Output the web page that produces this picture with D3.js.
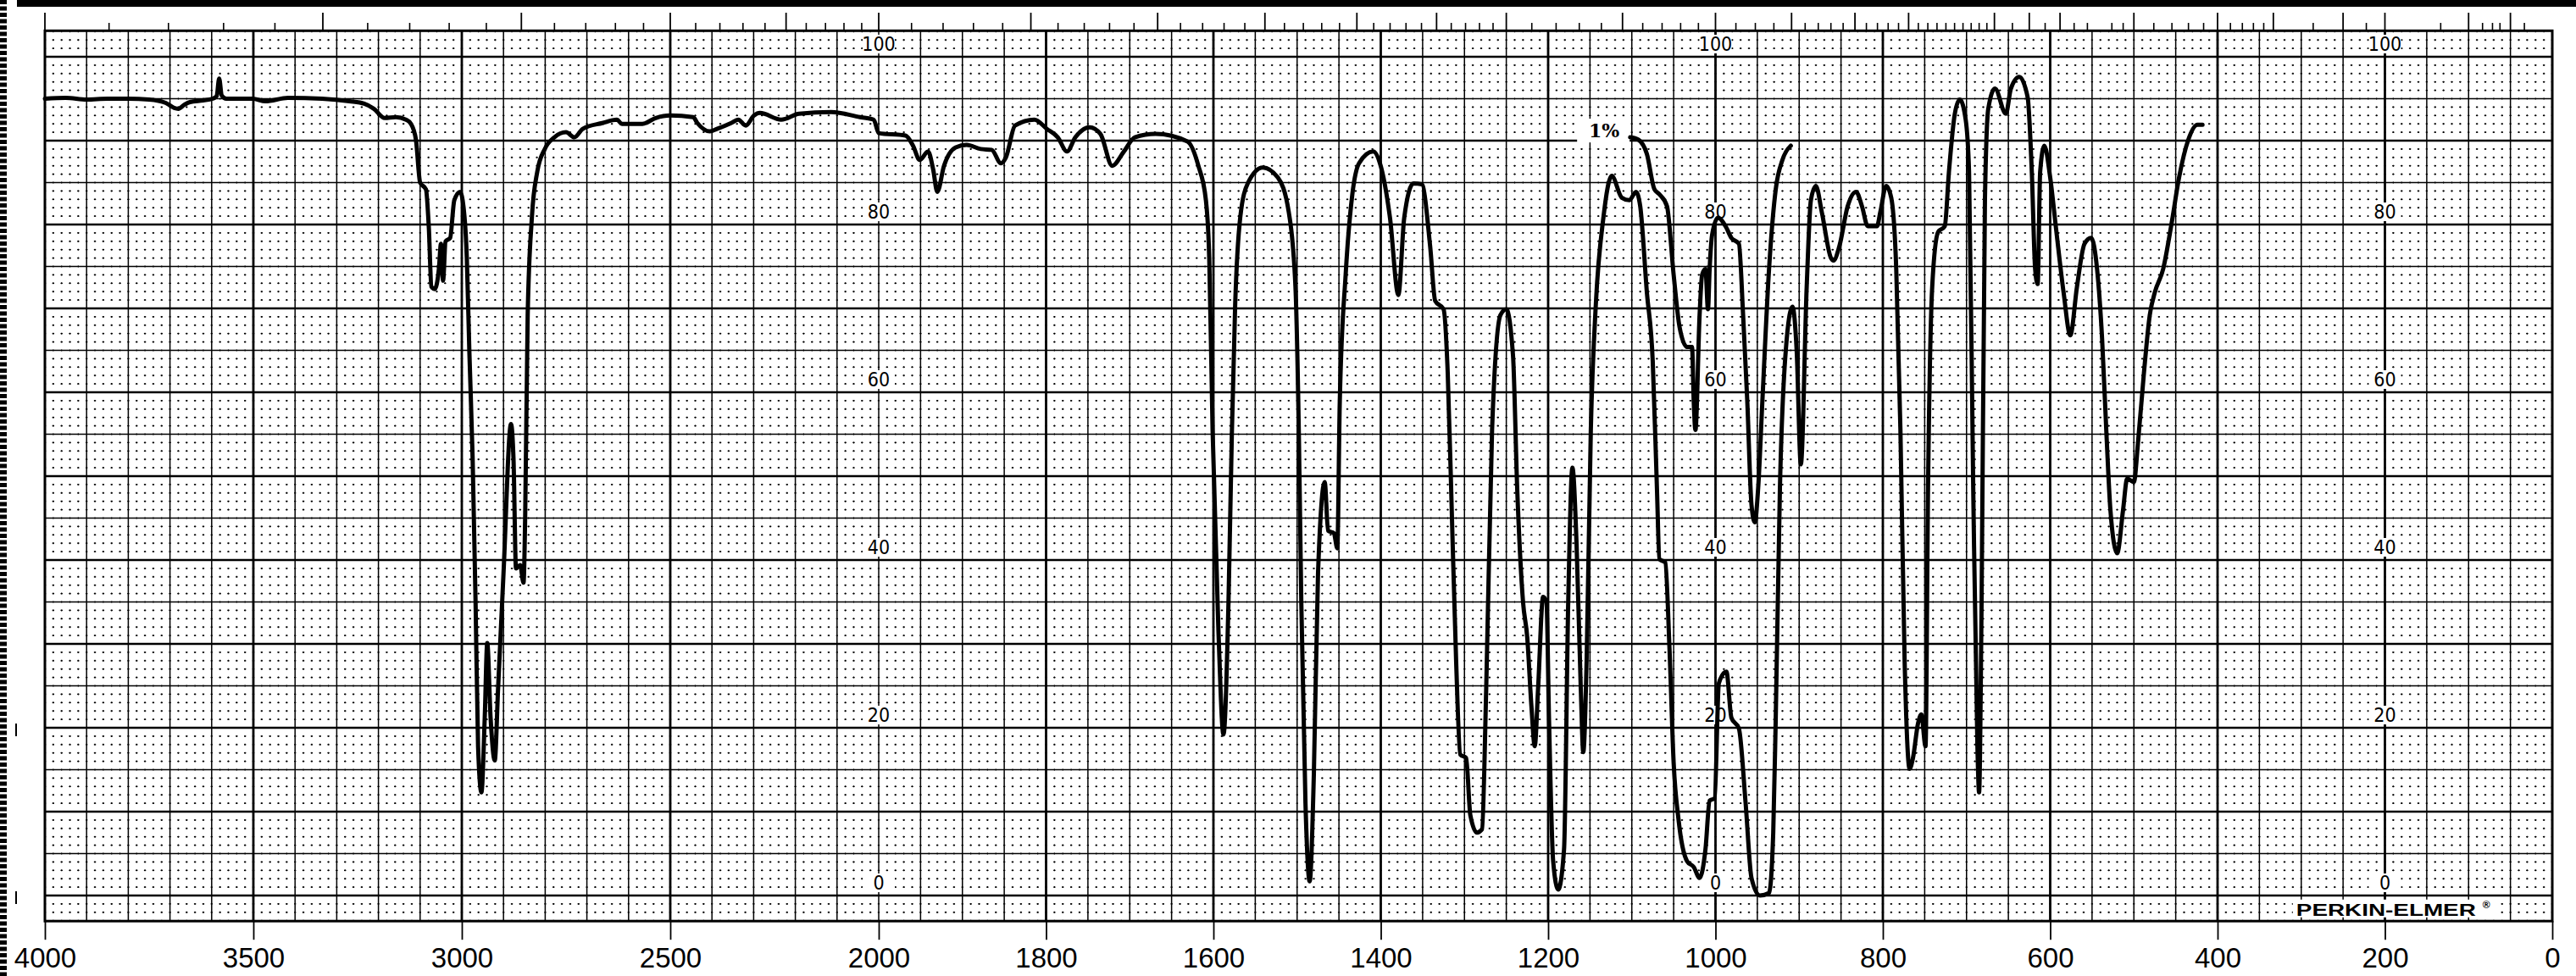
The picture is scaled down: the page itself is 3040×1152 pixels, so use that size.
<!DOCTYPE html>
<html><head><meta charset="utf-8">
<script src="https://cdn.jsdelivr.net/npm/d3@7"></script>
<style>html,body{margin:0;padding:0;background:#fff;} svg{display:block;}</style>
</head><body>
<svg id="c" width="3040" height="1152"></svg>
<script>
// ---------- DATA ----------
const mainWavenumber = [4000,3950,3900,3850,3800,3750,3710,3690,3680,3665,3652,3620,3598,3588,3582,3576,3565,3502,3471,3417,3335,3270,3234,3211,3185,3158,3134,3122,3110,3100,3086,3079,3073,3065,3055,3050,3045,3039,3028,3018,3004,2998,2988,2982,2974,2967,2961,2953,2945,2939,2931,2921,2913,2900,2882,2876,2870,2860,2852,2848,2842,2832,2819,2801,2778,2750,2730,2710,2663,2628,2616,2567,2535,2500,2445,2435,2405,2388,2354,2337,2319,2299,2285,2234,2191,2114,2045,2012,2000,1968,1959,1951,1941,1935,1930,1922,1908,1895,1878,1865,1854,1848,1837,1814,1799,1786,1775,1765,1748,1735,1721,1707,1694,1669,1631,1618,1609,1605,1601,1594,1588,1582,1578,1574,1568,1559,1541,1523,1510,1502,1498,1495,1490,1485,1480,1475,1467,1463,1456,1452,1449,1442,1434,1426,1409,1401,1389,1379,1372,1361,1351,1341,1335,1325,1320,1315,1310,1305,1298,1293,1285,1279,1274,1267,1257,1250,1242,1237,1230,1225,1220,1216,1212,1206,1202,1199,1194,1188,1181,1176,1171,1166,1161,1158,1154,1149,1143,1134,1124,1112,1103,1095,1090,1082,1075,1070,1067,1060,1055,1050,1044,1034,1026,1019,1012,1007,1001,996,987,981,972,964,957,947,936,931,928,923,916,908,903,898,891,886,880,873,862,859,852,842,832,825,818,807,803,796,790,784,779,774,768,764,758,754,749,746,741,734,726,721,714,708,701,697,692,687,685,682,678,674,666,653,647,637,627,622,618,615,612,607,600,593,584,576,568,559,551,544,538,533,528,520,513,508,500,495,488,481,475,465,455,446,435,424,418];
const mainTransmittance = [95.0,95.1,94.9,95.0,95.0,94.9,94.5,93.9,93.8,94.3,94.6,94.8,95.0,95.3,97.4,95.4,95.0,95.0,94.7,95.1,95.0,94.7,94.4,93.8,92.7,92.8,92.5,92.0,90.1,85.0,84.2,79.5,72.6,72.3,74.7,77.7,73.3,78.0,78.4,82.9,83.9,82.9,76.0,65.0,52.0,35.0,17.8,12.3,21.2,30.1,21.2,16.1,24.7,38.4,56.2,52.0,39.0,39.4,37.3,45.2,69.2,80.8,86.3,89.0,90.4,91.0,90.4,91.4,92.1,92.5,92.0,92.0,92.7,93.0,92.8,92.1,91.1,91.4,92.1,92.5,91.8,93.0,93.3,92.5,93.2,93.4,92.8,92.5,90.9,90.6,89.4,87.7,88.7,86.6,83.9,87.0,89.2,89.5,89.0,88.9,87.3,88.0,91.8,92.5,91.4,90.4,88.7,90.4,91.6,90.8,87.0,88.7,90.4,90.8,89.9,87.0,82.9,76.0,55.5,31.5,19.2,35.0,55.0,70.5,80.8,84.9,86.8,85.6,81.5,72.6,55.5,35.0,11.0,1.7,14.4,38.4,49.3,43.5,43.2,41.4,58.9,74.0,83.6,87.3,88.7,87.3,80.8,71.6,80.8,84.9,84.8,77.4,70.9,69.9,62.3,45.2,28.1,16.8,16.4,9.6,7.5,7.9,24.7,55.5,69.2,69.9,64.4,48.6,35.0,30.8,22.6,17.8,24.7,35.6,35.0,21.2,4.1,0.7,5.5,35.0,51.0,41.8,24.7,17.1,28.0,55.5,70.5,80.8,85.8,83.2,82.9,83.9,82.2,71.9,63.7,48.6,40.1,39.7,29.5,15.8,8.9,4.1,3.4,2.1,5.5,11.3,11.6,25.3,26.7,21.2,19.9,11.0,2.1,0.0,0.3,7.5,21.2,48.6,65.0,70.2,65.0,51.4,72.6,82.9,84.6,81.5,76.0,75.7,77.4,82.2,83.9,82.2,79.8,79.8,81.5,84.6,83.2,74.7,55.5,28.1,15.1,16.4,20.5,21.6,17.8,48.6,72.6,79.1,79.8,86.3,93.2,94.9,92.5,86.3,48.6,17.8,12.3,35.0,82.9,93.8,96.2,93.2,96.2,97.6,95.2,86.3,74.7,72.9,86.3,89.4,85.6,79.5,71.9,66.8,72.6,77.7,78.4,74.7,66.4,55.5,45.9,40.8,45.9,49.7,49.3,54.1,62.3,69.2,71.9,74.7,80.1,85.6,90.1,91.9,91.9];

// second trace recorded at 1 % (1100 - 910 cm-1)
const onePctWavenumber = [1102,1092,1082,1073,1067,1058,1050,1043,1034,1028,1026,1024,1019,1016,1012,1009,1007,1004,997,988,981,972,967,962,957,953,949,944,936,928,920,910];
const onePctTransmittance = [90.4,90.1,88.4,84.2,83.6,82.2,74.0,67.8,65.4,65.4,58.9,55.5,69.2,74.0,74.7,69.9,74.7,78.8,80.8,79.8,78.4,77.7,69.2,58.9,46.6,44.5,48.6,58.9,74.7,84.2,87.7,89.4];

const xTickValues = [4000,3500,3000,2500,2000,1800,1600,1400,1200,1000,800,600,400,200,0];
const pctLabelValues = [100,80,60,40,20,0];
const pctLabelColumns = [2000,1000,200];
const micronLongTicks = [2.5,3,3.5,4,4.5,5,5.5,6,6.5,7,7.5,8,9,10,11,12,13,15,16,17,20,25,30,40,50,100,200];
const micronShortTicks = [2.6,2.7,2.8,2.9,3.1,3.2,3.3,3.4,3.6,3.7,3.8,3.9,4.1,4.2,4.3,4.4,4.6,4.7,4.8,4.9,5.1,5.2,5.3,5.4,5.6,5.7,5.8,5.9,6.1,6.2,6.3,6.4,6.6,6.7,6.8,6.9,7.1,7.2,7.3,7.4,7.6,7.7,7.8,7.9,8.2,8.4,8.6,8.8,9.2,9.4,9.6,9.8,10.25,10.5,10.75,11.2,11.4,11.6,11.8,12.2,12.4,12.6,12.8,13.2,13.4,13.6,13.8,14,14.2,14.4,14.6,14.8,15.5,16.5,17.5,18,19,19.5,21,22,23,24,26,27,28,29,35,45,75,120,140,160,300];

// ---------- CHART ----------
const W = 3040, H = 1152;
const svg = d3.select('#c');
svg.append('rect').attr('width', W).attr('height', H).attr('fill', '#fff');

const x = d3.scaleLinear().domain([4000, 2000, 0]).range([53, 1037, 3012]);
const y = d3.scaleLinear().domain([0, 100]).range([1057, 67]);
const yTop = y(103.1), yBot = y(-3.05);
const xL = x(4000), xR = x(0);

// scan border decorations
svg.append('rect').attr('x', 20).attr('y', 0).attr('width', W - 20).attr('height', 8).attr('fill', '#000');
svg.append('line').attr('x1', 4).attr('x2', 4).attr('y1', 0).attr('y2', H)
  .attr('stroke', '#000').attr('stroke-width', 8).attr('stroke-dasharray', '5 2.5');
[[y(20.5), y(19)], [y(0.5), y(-1)]].forEach(([a, b]) => {
  svg.append('line').attr('x1', 19).attr('x2', 19).attr('y1', a).attr('y2', b).attr('stroke', '#000').attr('stroke-width', 2);
});

const grid = svg.append('g');
// dotted minor columns
const stepHi = x(3980) - x(4000), stepLo = x(1990) - x(2000), stepY = y(0) - y(1);
const minorCols = [...d3.range(3980, 2000, -20).filter(w => w % 100 !== 0),
                   ...d3.range(1990, 0, -10).filter(w => w % 50 !== 0)];
grid.selectAll('.mc').data(minorCols).join('line')
  .attr('x1', d => x(d)).attr('x2', d => x(d)).attr('y1', y(103)).attr('y2', y(-3))
  .attr('stroke', '#000').attr('stroke-width', 1.2)
  .attr('stroke-dasharray', `2 ${stepY - 2}`).attr('stroke-dashoffset', 1);
// dotted minor rows
const minorRows = d3.range(-2, 103).filter(p => p % 5 !== 0);
grid.selectAll('.mrh').data(minorRows).join('line')
  .attr('x1', xL).attr('x2', x(2000)).attr('y1', d => y(d)).attr('y2', d => y(d))
  .attr('stroke', '#000').attr('stroke-width', 1.2)
  .attr('stroke-dasharray', `2.4 ${stepHi - 2.4}`).attr('stroke-dashoffset', 1.2);
grid.selectAll('.mrl').data(minorRows).join('line')
  .attr('x1', x(2000)).attr('x2', xR).attr('y1', d => y(d)).attr('y2', d => y(d))
  .attr('stroke', '#000').attr('stroke-width', 1.2)
  .attr('stroke-dasharray', `2.4 ${stepLo - 2.4}`).attr('stroke-dashoffset', 1.2);

// rows
const thinRows = d3.range(5, 100, 10);
const heavyRows = d3.range(0, 101, 10);
grid.selectAll('.tr').data(thinRows).join('line')
  .attr('x1', xL).attr('x2', xR).attr('y1', d => y(d)).attr('y2', d => y(d))
  .attr('stroke', '#000').attr('stroke-width', 1.4);
grid.selectAll('.hr').data(heavyRows).join('line')
  .attr('x1', xL).attr('x2', xR).attr('y1', d => y(d)).attr('y2', d => y(d))
  .attr('stroke', '#000').attr('stroke-width', 2.6);

// columns
const thinCols = [...d3.range(3900, 1999, -100).filter(w => w % 500 !== 0), 2000,
                  ...d3.range(1950, 0, -50).filter(w => w % 200 !== 0)];
const heavyCols = [3500, 3000, 2500, ...d3.range(1800, 0, -200)];
grid.selectAll('.tc').data(thinCols).join('line')
  .attr('x1', d => x(d)).attr('x2', d => x(d)).attr('y1', yTop).attr('y2', yBot)
  .attr('stroke', '#000').attr('stroke-width', 1.5);
grid.selectAll('.hc').data(heavyCols).join('line')
  .attr('x1', d => x(d)).attr('x2', d => x(d)).attr('y1', yTop).attr('y2', yBot)
  .attr('stroke', '#000').attr('stroke-width', 2.8);

// frame
svg.append('rect').attr('x', xL).attr('y', yTop).attr('width', xR - xL).attr('height', yBot - yTop)
  .attr('fill', 'none').attr('stroke', '#000').attr('stroke-width', 3);

// top micron ticks
svg.append('g').selectAll('line').data(micronShortTicks).join('line')
  .attr('x1', d => x(1e4 / d)).attr('x2', d => x(1e4 / d)).attr('y1', yTop).attr('y2', 27)
  .attr('stroke', '#000').attr('stroke-width', 1.6);
svg.append('g').selectAll('line').data(micronLongTicks).join('line')
  .attr('x1', d => x(1e4 / d)).attr('x2', d => x(1e4 / d)).attr('y1', yTop).attr('y2', 15)
  .attr('stroke', '#000').attr('stroke-width', 1.8);

// % labels on three columns
const lab = svg.append('g');
pctLabelColumns.forEach(c => {
  pctLabelValues.forEach(v => {
    const cx = x(c), cy = y(v) - 15;
    lab.append('rect').attr('x', cx - 19).attr('y', cy - 11).attr('width', 38).attr('height', 22).attr('fill', '#fff');
    lab.append('text').attr('x', cx).attr('y', cy).attr('text-anchor', 'middle').attr('dominant-baseline', 'central')
      .attr('font-family', "'Liberation Sans Narrow', 'DejaVu Sans Condensed', sans-serif")
      .attr('font-size', 23).attr('fill', '#000').text(v);
  });
});

// bottom axis
const axis = d3.axisBottom(x).tickValues(xTickValues).tickFormat(d3.format('d')).tickSize(22).tickPadding(9);
const ax = svg.append('g').attr('transform', `translate(0,${yBot})`).call(axis);
ax.select('.domain').remove();
ax.selectAll('line').attr('stroke', '#000').attr('stroke-width', 1.8);
ax.selectAll('text').attr('font-family', "'Liberation Sans', Arial, sans-serif").attr('font-size', 33).attr('fill', '#000');

// Perkin-Elmer mark
const peX = x(306), peY = y(-2.4);
svg.append('rect').attr('x', peX - 4).attr('y', peY - 19).attr('width', 240).attr('height', 21).attr('fill', '#fff');
svg.append('text').attr('x', peX).attr('y', peY).attr('font-family', "'Liberation Sans', Arial, sans-serif")
  .attr('font-weight', 'bold').attr('font-size', 21).attr('textLength', 212).attr('lengthAdjust', 'spacingAndGlyphs')
  .attr('fill', '#000').text('PERKIN-ELMER');
svg.append('text').attr('x', peX + 220).attr('y', peY - 9).attr('font-family', "'Liberation Sans', Arial, sans-serif")
  .attr('font-weight', 'bold').attr('font-size', 12).attr('fill', '#000').text('®');

// "1%" annotation
const aX = x(1133), aY = y(91.2);
svg.append('rect').attr('x', aX - 32).attr('y', aY - 14).attr('width', 62).attr('height', 28).attr('fill', '#fff');
svg.append('text').attr('x', aX).attr('y', aY).attr('text-anchor', 'middle').attr('dominant-baseline', 'central')
  .attr('font-family', "'DejaVu Serif', serif").attr('font-weight', 'bold').attr('font-size', 22)
  .attr('fill', '#000').text('1%');

// spectra
const line = d3.line().x(d => x(d[0])).y(d => y(d[1])).curve(d3.curveMonotoneX);
const mainData = mainWavenumber.map((w, i) => [w, mainTransmittance[i]]);
const oneData = onePctWavenumber.map((w, i) => [w, onePctTransmittance[i]]);
svg.append('path').datum(mainData).attr('d', line).attr('fill', 'none')
  .attr('stroke', '#000').attr('stroke-width', 5).attr('stroke-linejoin', 'round').attr('stroke-linecap', 'round');
svg.append('path').datum(oneData).attr('d', line).attr('fill', 'none')
  .attr('stroke', '#000').attr('stroke-width', 5).attr('stroke-linejoin', 'round').attr('stroke-linecap', 'round');
</script>
</body></html>
